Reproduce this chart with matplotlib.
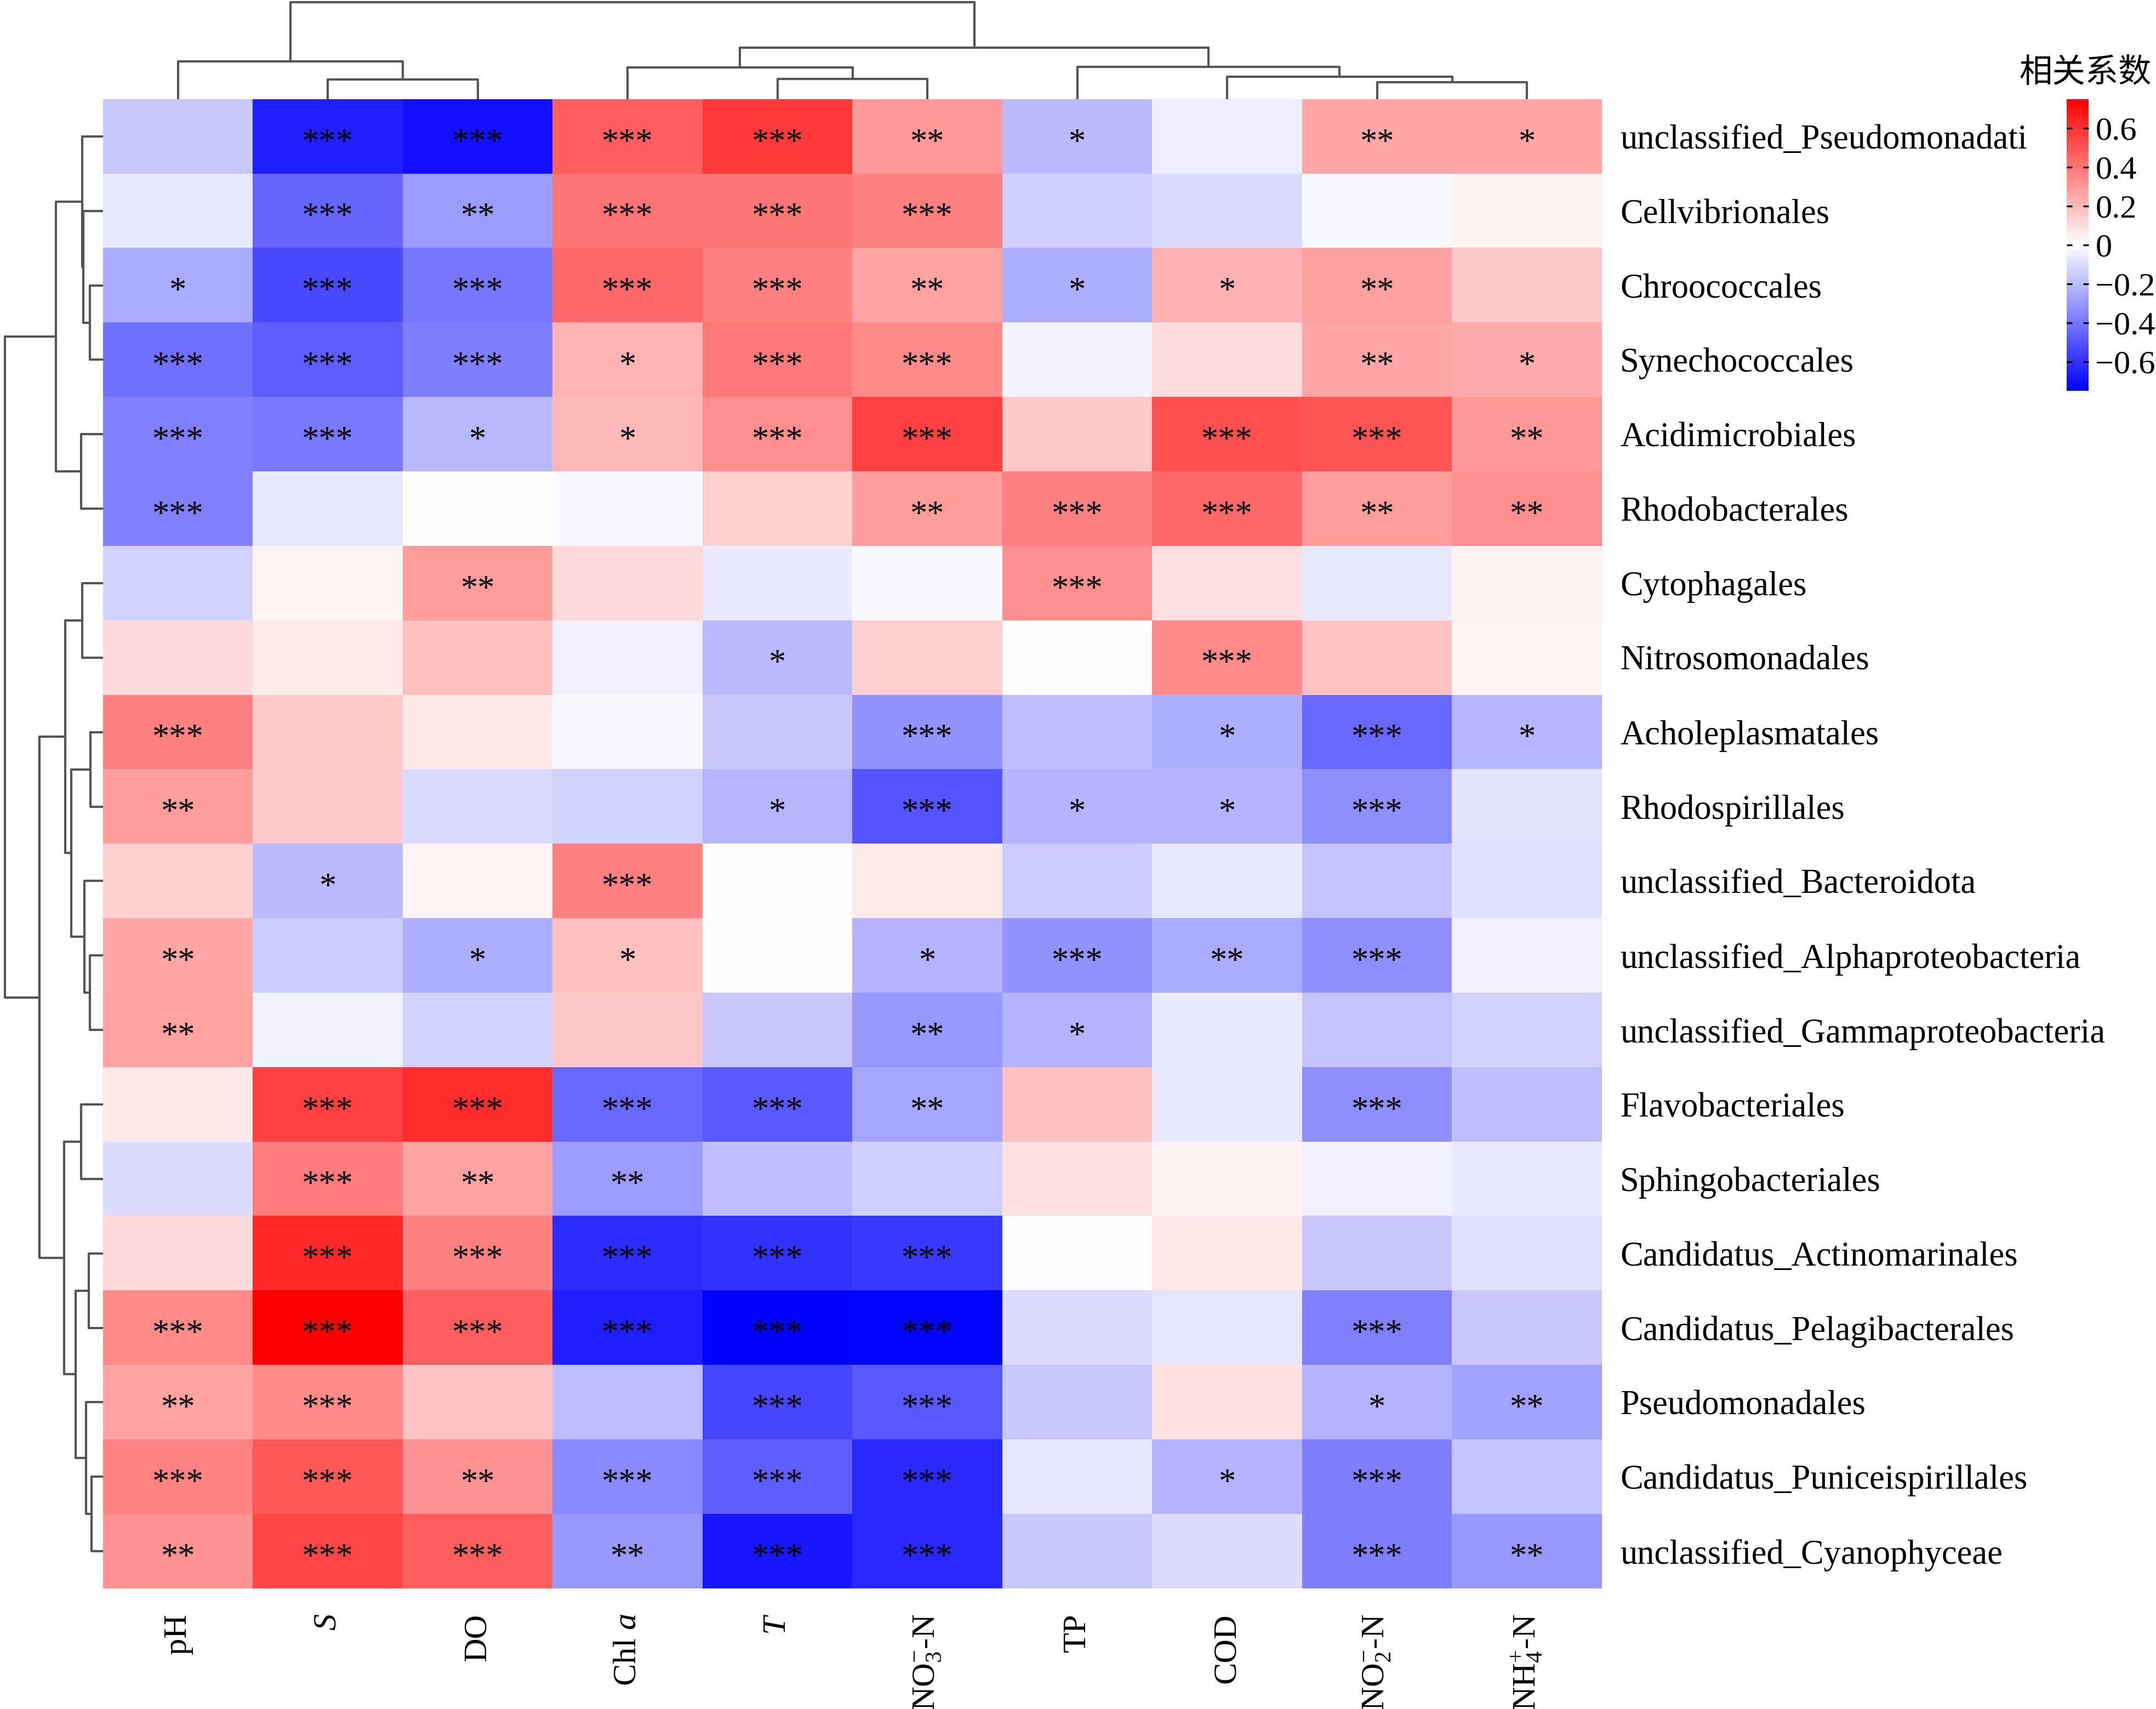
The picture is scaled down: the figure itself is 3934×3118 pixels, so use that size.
import numpy as np
import matplotlib
matplotlib.use("Agg")
import matplotlib.pyplot as plt

plt.rcParams['font.family'] = ['Liberation Serif', 'DejaVu Serif']
plt.rcParams['mathtext.fontset'] = 'custom'
plt.rcParams['mathtext.rm'] = 'Liberation Serif'
plt.rcParams['mathtext.it'] = 'Liberation Serif:italic'

# column (environment factor) labels, in clustered order
factors = ['pH', '$S$', 'DO', 'Chl $a$', '$T$', 'NO$_3^{-}$-N', 'TP', 'COD',
           'NO$_2^{-}$-N', 'NH$_4^{+}$-N']

# row (order) labels, in clustered order
orders = ['unclassified_Pseudomonadati', 'Cellvibrionales', 'Chroococcales',
          'Synechococcales', 'Acidimicrobiales', 'Rhodobacterales', 'Cytophagales',
          'Nitrosomonadales', 'Acholeplasmatales', 'Rhodospirillales',
          'unclassified_Bacteroidota', 'unclassified_Alphaproteobacteria',
          'unclassified_Gammaproteobacteria', 'Flavobacteriales',
          'Sphingobacteriales', 'Candidatus_Actinomarinales',
          'Candidatus_Pelagibacterales', 'Pseudomonadales',
          'Candidatus_Puniceispirillales', 'unclassified_Cyanophyceae']

# correlation coefficients (rows = orders, cols = factors)
corr = [
    [-0.16, -0.66, -0.70,  0.47,  0.58,  0.30, -0.20, -0.05,  0.26,  0.26],
    [-0.07, -0.45, -0.29,  0.41,  0.40,  0.37, -0.14, -0.11, -0.02,  0.04],
    [-0.25, -0.53, -0.40,  0.44,  0.37,  0.27, -0.24,  0.23,  0.28,  0.16],
    [-0.42, -0.47, -0.38,  0.22,  0.39,  0.34, -0.03,  0.10,  0.26,  0.25],
    [-0.37, -0.39, -0.21,  0.21,  0.33,  0.56,  0.16,  0.51,  0.50,  0.30],
    [-0.37, -0.07,  0.01, -0.02,  0.14,  0.29,  0.37,  0.44,  0.29,  0.33],
    [-0.13,  0.03,  0.29,  0.11, -0.06, -0.02,  0.33,  0.09, -0.07,  0.04],
    [ 0.11,  0.06,  0.185, -0.045, -0.20, 0.14,  0.01,  0.34,  0.17,  0.03],
    [ 0.37,  0.155, 0.07, -0.02, -0.16, -0.315, -0.19, -0.24, -0.44, -0.215],
    [ 0.29,  0.155, -0.11, -0.13, -0.215, -0.50, -0.22, -0.22, -0.33, -0.08],
    [ 0.14, -0.20,  0.035, 0.37,  0.00,  0.06, -0.15, -0.07, -0.17, -0.09],
    [ 0.26, -0.15, -0.24,  0.185, 0.01, -0.22, -0.315, -0.25, -0.33, -0.045],
    [ 0.27, -0.04, -0.13,  0.16, -0.16, -0.30, -0.22, -0.06, -0.17, -0.13],
    [ 0.07,  0.56,  0.62, -0.44, -0.485, -0.26, 0.185, -0.07, -0.33, -0.19],
    [-0.10,  0.385, 0.27, -0.29, -0.19, -0.14,  0.09,  0.04, -0.045, -0.06],
    [ 0.11,  0.63,  0.37, -0.62, -0.60, -0.585, 0.005, 0.07, -0.16, -0.09],
    [ 0.34,  0.75,  0.47, -0.66, -0.75, -0.74, -0.10, -0.075, -0.37, -0.16],
    [ 0.27,  0.345, 0.17, -0.19, -0.54, -0.49, -0.16,  0.09, -0.22, -0.27],
    [ 0.36,  0.49,  0.315, -0.34, -0.47, -0.63, -0.075, -0.22, -0.38, -0.17],
    [ 0.315, 0.54,  0.47, -0.30, -0.68, -0.63, -0.16, -0.10, -0.38, -0.30],
]

# significance marks
stars = [
    ['', '***', '***', '***', '***', '**', '*', '', '**', '*'],
    ['', '***', '**', '***', '***', '***', '', '', '', ''],
    ['*', '***', '***', '***', '***', '**', '*', '*', '**', ''],
    ['***', '***', '***', '*', '***', '***', '', '', '**', '*'],
    ['***', '***', '*', '*', '***', '***', '', '***', '***', '**'],
    ['***', '', '', '', '', '**', '***', '***', '**', '**'],
    ['', '', '**', '', '', '', '***', '', '', ''],
    ['', '', '', '', '*', '', '', '***', '', ''],
    ['***', '', '', '', '', '***', '', '*', '***', '*'],
    ['**', '', '', '', '*', '***', '*', '*', '***', ''],
    ['', '*', '', '***', '', '', '', '', '', ''],
    ['**', '', '*', '*', '', '*', '***', '**', '***', ''],
    ['**', '', '', '', '', '**', '*', '', '', ''],
    ['', '***', '***', '***', '***', '**', '', '', '***', ''],
    ['', '***', '**', '**', '', '', '', '', '', ''],
    ['', '***', '***', '***', '***', '***', '', '', '', ''],
    ['***', '***', '***', '***', '***', '***', '', '', '***', ''],
    ['**', '***', '', '', '***', '***', '', '', '*', '**'],
    ['***', '***', '**', '***', '***', '***', '', '*', '***', ''],
    ['**', '***', '***', '**', '***', '***', '', '', '***', '**'],
]

# cluster trees: (merge height, left, right), leaves are row/col indices
row_tree = (536, (258, (115, 0, (108, 1, (73, 2, 3))), (121, 4, 5)),
            (348, (208, (115, 6, 7), (173, (68, 8, 9), (103, 10, (73, 11, 12)))),
             (213, (121, 13, 14), (151, (78, 15, 16), (93, 17, (63, 18, 19))))))
col_tree = (530, (207, 0, (107, 1, 2)),
            (282, (173, 3, (110, 4, 5)), (177, 6, (122, 7, (92, 8, 9)))))


def draw_tree(ax, node, orient):
    # returns (leaf position, height) of this node
    if not isinstance(node, tuple):
        return node, 0.0
    h, a, b = node
    pa, ha = draw_tree(ax, a, orient)
    pb, hb = draw_tree(ax, b, orient)
    xs = [pa, pa, pb, pb]
    ys = [ha, h, h, hb]
    if orient == 'top':
        ax.plot(xs, ys, color='#555555', lw=1.0, solid_capstyle='butt')
    else:
        ax.plot(ys, xs, color='#555555', lw=1.0, solid_capstyle='butt')
    return (pa + pb) / 2, h


W, H = 3934, 3118
fig = plt.figure(figsize=(W / 300, H / 300), dpi=300)

hm_l, hm_r, hm_t, hm_b = 188, 2923, 181, 2898
ax = fig.add_axes([hm_l / W, 1 - hm_b / H, (hm_r - hm_l) / W, (hm_b - hm_t) / H])
data = np.array(corr)
im = ax.imshow(data, cmap='bwr', vmin=-0.75, vmax=0.75, aspect='auto',
               interpolation='nearest')
for i in range(len(orders)):
    for j in range(len(factors)):
        if stars[i][j]:
            ax.text(j, i + 0.1, stars[i][j], ha='center', va='center',
                    fontsize=15, color='black')
ax.set_xticks(range(len(factors)))
ax.set_xticklabels(factors, rotation=90, fontsize=14.5)
ax.set_yticks(range(len(orders)))
ax.set_yticklabels(orders, fontsize=15)
for lab in ax.get_yticklabels():
    lab.set_y(lab.get_position()[1])
ax.yaxis.tick_right()
ax.tick_params(axis='x', length=0, pad=11)
ax.tick_params(axis='y', length=0, pad=8)
for s in ax.spines.values():
    s.set_visible(False)

# row dendrogram
axr = fig.add_axes([0, 1 - hm_b / H, hm_l / W, (hm_b - hm_t) / H])
draw_tree(axr, row_tree, 'left')
axr.set_ylim(len(orders) - 0.5, -0.5)
axr.set_xlim(564, 0)
axr.axis('off')

# column dendrogram
axc = fig.add_axes([hm_l / W, 1 - hm_t / H, (hm_r - hm_l) / W, hm_t / H])
draw_tree(axc, col_tree, 'top')
axc.set_xlim(-0.5, len(factors) - 0.5)
axc.set_ylim(0, 543)
axc.axis('off')

# colorbar
cax = fig.add_axes([3771 / W, 1 - 713 / H, 40 / W, 532 / H])
cb = fig.colorbar(im, cax=cax, ticks=[-0.6, -0.4, -0.2, 0, 0.2, 0.4, 0.6])
cb.outline.set_visible(False)
cb.ax.set_yticklabels(['\u22120.6', '\u22120.4', '\u22120.2', '0', '0.2', '0.4', '0.6'])
cb.ax.tick_params(direction='in', left=True, right=True, length=2.5, width=0.8,
                  labelsize=14.5, pad=3)
fig.text(3805 / W, 1 - 133 / H, '相关系数', ha='center', va='center',
         fontsize=14.5, family=['Noto Sans CJK SC', 'DejaVu Sans'])

fig.savefig('out.png', dpi=300)
